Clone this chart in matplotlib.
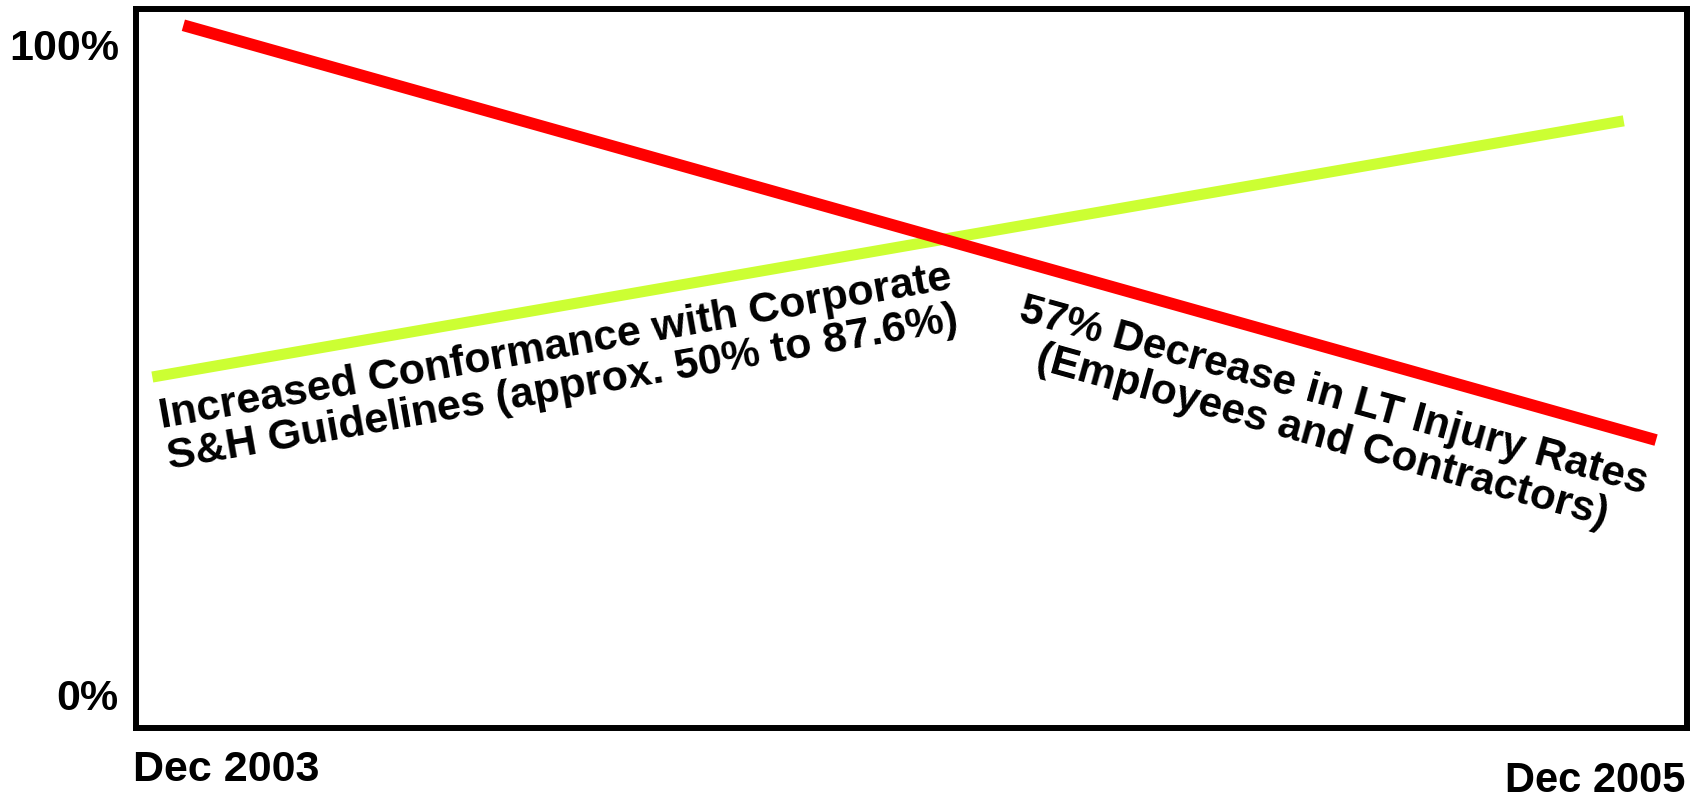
import matplotlib
matplotlib.use("Agg")
import matplotlib.pyplot as plt

plt.rcParams['font.family'] = ['Liberation Sans', 'DejaVu Sans']
plt.rcParams['font.weight'] = 'bold'

# months after Dec 2003, and percent values
green_months = [0.26, 23.02]
green_values = [48.9, 88.3]
red_months = [0.74, 23.52]
red_values = [103.0, 39.2]

y_ticks = [0, 100]
y_labels = ["0%", "100%"]
x_ticks = [0, 24]
x_labels = ["Dec 2003", "Dec 2005"]

green_text = "Increased Conformance with Corporate\nS&H Guidelines (approx. 50% to 87.6%)"
red_text = "57% Decrease in LT Injury Rates\n(Employees and Contractors)"

fig = plt.figure(figsize=(16.92, 8.0), dpi=100)
ax = fig.add_axes([0.0801, 0.09, 0.917, 0.89875])

ax.plot(green_months, green_values, color='#ccff33', linewidth=8, solid_capstyle='butt', zorder=2)
ax.plot(red_months, red_values, color='#ff0000', linewidth=8.5, solid_capstyle='butt', zorder=3)

ax.set_xlim(0, 24)
ax.set_ylim(-5.08, 105.5)

for s in ax.spines.values():
    s.set_linewidth(4.3)
    s.set_color('black')

ax.set_yticks(y_ticks)
ax.set_yticklabels(y_labels, fontsize=31, fontweight='bold')
ax.tick_params(axis='y', length=0, pad=12)
ax.set_xticks([])

# x labels: first left aligned, last right aligned and set lower
ax.annotate(x_labels[0], xy=(x_ticks[0], 0), xycoords=('data', 'axes fraction'),
            xytext=(-2, -16), textcoords='offset points', ha='left', va='top',
            fontsize=31, fontweight='bold', annotation_clip=False)
ax.annotate(x_labels[1], xy=(x_ticks[1], 0), xycoords=('data', 'axes fraction'),
            xytext=(-1.5, -23.5), textcoords='offset points', ha='right', va='top',
            fontsize=30, fontweight='bold', annotation_clip=False)

ax.text(6.55, 50.3, green_text, rotation=10, rotation_mode='anchor',
        ha='center', va='center', fontsize=31, fontweight='bold', linespacing=1.05)
ax.text(18.45, 42.8, red_text, rotation=-15.5, rotation_mode='anchor',
        ha='center', va='center', fontsize=30.5, fontweight='bold', linespacing=1.05)

fig.savefig("out.png", dpi=100)
